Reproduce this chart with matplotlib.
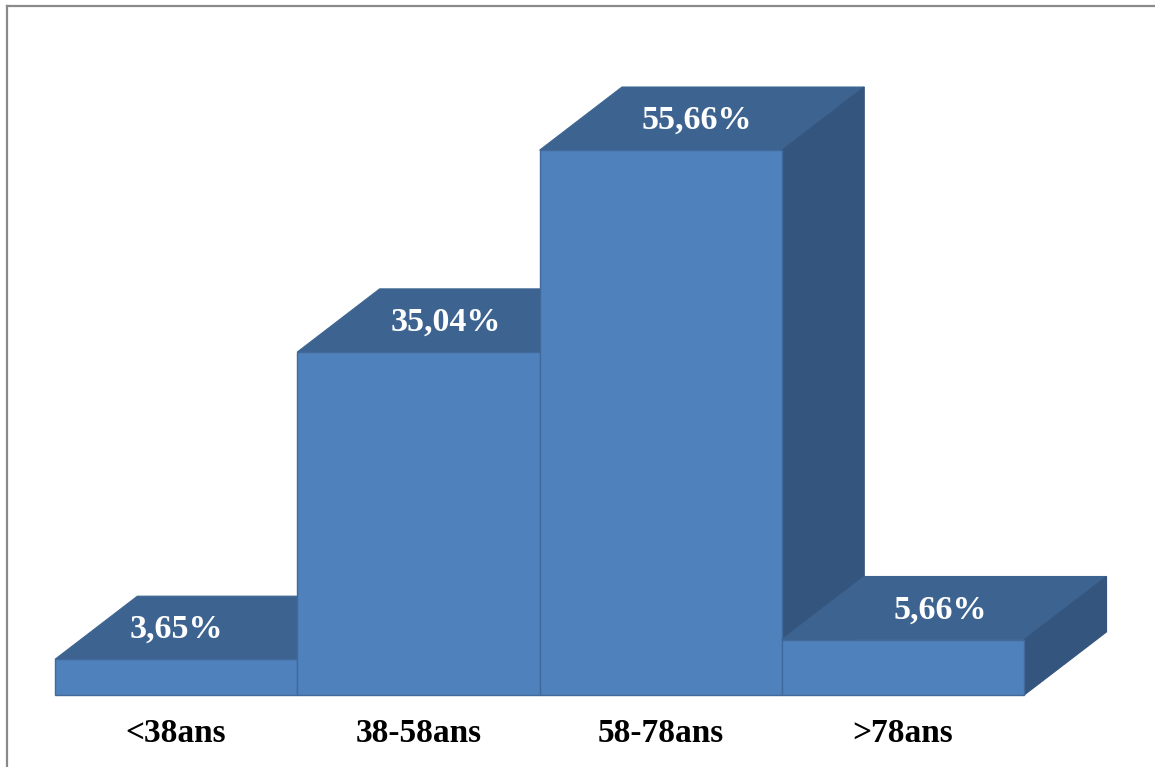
import matplotlib
matplotlib.use("Agg")
import matplotlib.pyplot as plt
from matplotlib.patches import Polygon
from matplotlib.lines import Line2D

# age groups and their share of patients (%)
categories = ["<38ans", "38-58ans", "58-78ans", ">78ans"]
shares = [3.65, 35.04, 55.66, 5.66]

# pseudo-3D look: depth offset of the box (x in bar widths, y in %)
DEPTH_X = 0.34
DEPTH_Y = 6.45
# horizontal nudge of the value label on each top face
label_shift = [0.0, 0.115, 0.15, 0.155]

FRONT = "#4f81bd"
TOP = "#3d6491"
SIDE = "#34557d"
EDGE = "#42699a"

fig = plt.figure(figsize=(11.55, 7.67), dpi=100)
ax = fig.add_axes([0, 0, 1, 1])
ax.set_xlim(-0.727, 4.04)
ax.set_ylim(-7.35, 71.0)
ax.axis("off")

z = 2
for i, v in enumerate(shares):
    x0, x1 = i - 0.5, i + 0.5
    top = Polygon([(x0, v), (x1, v), (x1 + DEPTH_X, v + DEPTH_Y), (x0 + DEPTH_X, v + DEPTH_Y)],
                  closed=True, facecolor=TOP, edgecolor=TOP, linewidth=0.8, zorder=z)
    side = Polygon([(x1, 0), (x1 + DEPTH_X, DEPTH_Y), (x1 + DEPTH_X, v + DEPTH_Y), (x1, v)],
                   closed=True, facecolor=SIDE, edgecolor=SIDE, linewidth=0.8, zorder=z)
    front = Polygon([(x0, 0), (x1, 0), (x1, v), (x0, v)],
                    closed=True, facecolor=FRONT, edgecolor=EDGE, linewidth=1.0, zorder=z + 1)
    for p in (top, side, front):
        ax.add_patch(p)
    z += 2

    label = f"{v:.2f}".replace(".", ",") + "%"
    ax.text(i + label_shift[i], v + DEPTH_Y / 2 - 0.2, label, ha="center", va="center",
            color="white", fontsize=24.5, fontweight="bold", family="Liberation Serif",
            zorder=50)
    ax.text(i, -3.9, categories[i], ha="center", va="center", color="black",
            fontsize=24, fontweight="bold", family="Liberation Serif", zorder=50)

# chart area frame (only top and left edges fall inside the image)
fig.add_artist(Line2D([6.5 / 1155, 6.5 / 1155], [0, 1 - 5.5 / 767],
                      transform=fig.transFigure, color="#8a8a8a", linewidth=1.6))
fig.add_artist(Line2D([6.5 / 1155, 1], [1 - 5.5 / 767, 1 - 5.5 / 767],
                      transform=fig.transFigure, color="#8a8a8a", linewidth=1.6))

fig.savefig("out.png", dpi=100, facecolor="white")
